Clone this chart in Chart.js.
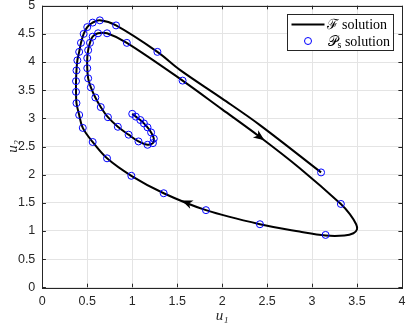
<!DOCTYPE html>
<html>
<head>
<meta charset="utf-8">
<script src="https://cdn.jsdelivr.net/npm/chart.js@4/dist/chart.umd.min.js"></script>
<style>
  html, body { margin: 0; padding: 0; background: #fff; }
  #wrap { width: 407px; height: 326px; }
</style>
</head>
<body>
<div id="wrap"><canvas id="cv" width="407" height="326"></canvas></div>
<script>
// ===== values =====
// F solution (continuous line), in time order
const fU1 = [1.00, 1.04, 1.09, 1.13, 1.17, 1.21, 1.24, 1.23, 1.17, 1.07, 0.96, 0.84, 0.73, 0.65, 0.59, 0.54,
  0.51, 0.50, 0.50, 0.51, 0.53, 0.56, 0.62, 0.72, 0.94, 1.56, 2.00, 2.42, 2.86, 3.32, 3.42, 3.49,
  3.50, 3.46, 3.36, 3.15, 2.86, 2.42, 1.82, 1.35, 0.99, 0.72, 0.56, 0.45, 0.41, 0.38, 0.375, 0.375,
  0.38, 0.39, 0.41, 0.43, 0.46, 0.50, 0.56, 0.64, 0.82, 1.28, 1.53, 2.00, 2.42, 3.10];
const fU2 = [3.08, 3.03, 2.97, 2.91, 2.84, 2.75, 2.64, 2.56, 2.53, 2.59, 2.71, 2.85, 3.02, 3.20, 3.37, 3.55,
  3.71, 3.89, 4.07, 4.21, 4.34, 4.45, 4.51, 4.51, 4.34, 3.67, 3.16, 2.67, 2.12, 1.48, 1.30, 1.12,
  1.03, 0.96, 0.92, 0.92, 0.99, 1.12, 1.37, 1.67, 1.98, 2.29, 2.58, 2.83, 3.06, 3.27, 3.47, 3.66,
  3.85, 4.03, 4.18, 4.34, 4.50, 4.62, 4.70, 4.74, 4.65, 4.18, 3.86, 3.35, 2.88, 2.04];

// Ps solution (circles)
const psU1 = [1.00, 1.04, 1.09, 1.13, 1.17, 1.21, 1.24, 1.23, 1.17, 1.07, 0.96, 0.84, 0.73, 0.65, 0.59, 0.54,
  0.51, 0.50, 0.50, 0.51, 0.53, 0.56, 0.62, 0.72, 0.94, 1.56, 3.32, 3.15, 2.42, 1.82, 1.35, 0.99,
  0.72, 0.56, 0.45, 0.41, 0.38, 0.375, 0.375, 0.38, 0.39, 0.41, 0.43, 0.46, 0.50, 0.56, 0.64, 0.82,
  1.28, 3.10];
const psU2 = [3.08, 3.03, 2.97, 2.91, 2.84, 2.75, 2.64, 2.56, 2.53, 2.59, 2.71, 2.85, 3.02, 3.20, 3.37, 3.55,
  3.71, 3.89, 4.07, 4.21, 4.34, 4.45, 4.51, 4.51, 4.34, 3.67, 1.48, 0.93, 1.12, 1.37, 1.67, 1.98,
  2.29, 2.58, 2.83, 3.06, 3.27, 3.47, 3.66, 3.85, 4.03, 4.18, 4.34, 4.50, 4.62, 4.70, 4.74, 4.65,
  4.18, 2.04];

// direction arrows: tail -> tip
const arrowTail = [[2.30, 2.81], [1.72, 1.43]];
const arrowTip  = [[2.47, 2.61], [1.55, 1.54]];

const xTickVals = [0, 0.5, 1, 1.5, 2, 2.5, 3, 3.5, 4];
const yTickVals = [0, 0.5, 1, 1.5, 2, 2.5, 3, 3.5, 4, 4.5, 5];

const AXIS_COLOR = "#262626";
const GRID_COLOR = "#e4e4e4";
const TICK_FONT = { family: "'Liberation Sans', Arial, sans-serif", size: 12.5 };
const TITLE_FONT = { family: "'Liberation Serif', 'Times New Roman', serif", size: 15, style: "italic" };

const zip = (a, b) => a.map((v, i) => ({ x: v, y: b[i] }));

// arrowheads, box with inward ticks, legend
const decor = {
  id: "decor",
  afterDraw(chart) {
    const ctx = chart.ctx;
    const xs = chart.scales.x, ys = chart.scales.y;
    const a = chart.chartArea;

    // arrowheads along the trajectory
    ctx.save();
    ctx.fillStyle = "#000";
    arrowTip.forEach((tip, i) => {
      const tx = xs.getPixelForValue(tip[0]), ty = ys.getPixelForValue(tip[1]);
      const bx = xs.getPixelForValue(arrowTail[i][0]), by = ys.getPixelForValue(arrowTail[i][1]);
      const ang = Math.atan2(ty - by, tx - bx);
      ctx.save();
      ctx.translate(tx, ty);
      ctx.rotate(ang);
      ctx.beginPath();
      ctx.moveTo(0, 0);
      ctx.lineTo(-11, -4.5);
      ctx.lineTo(-8, 0);
      ctx.lineTo(-11, 4.5);
      ctx.closePath();
      ctx.fill();
      ctx.restore();
    });
    ctx.restore();

    // box + inward ticks (matlab style)
    ctx.save();
    ctx.strokeStyle = AXIS_COLOR;
    ctx.lineWidth = 1;
    ctx.strokeRect(Math.round(a.left) + 0.5, Math.round(a.top) + 0.5,
      Math.round(a.right - a.left), Math.round(a.bottom - a.top));
    const tl = 3.6;
    ctx.beginPath();
    xTickVals.forEach(v => {
      const px = Math.round(xs.getPixelForValue(v)) + 0.5;
      ctx.moveTo(px, a.bottom); ctx.lineTo(px, a.bottom - tl);
      ctx.moveTo(px, a.top); ctx.lineTo(px, a.top + tl);
    });
    yTickVals.forEach(v => {
      const py = Math.round(ys.getPixelForValue(v)) + 0.5;
      ctx.moveTo(a.left, py); ctx.lineTo(a.left + tl, py);
      ctx.moveTo(a.right, py); ctx.lineTo(a.right - tl, py);
    });
    ctx.stroke();
    ctx.restore();

    // legend box in the upper right corner
    const ds = chart.data.datasets;
    const lineDs = ds.find(d => d.showLine);
    const markDs = ds.find(d => !d.showLine);
    const bw = 106, bh = 36;
    const bx0 = Math.round(a.right - 9 - bw) + 0.5, by0 = Math.round(a.top + 8) + 0.5;
    ctx.save();
    ctx.fillStyle = "#fff";
    ctx.fillRect(bx0, by0, bw, bh);
    ctx.strokeStyle = AXIS_COLOR;
    ctx.lineWidth = 1;
    ctx.strokeRect(bx0, by0, bw, bh);

    const row1 = by0 + 10, row2 = by0 + 26.5;
    ctx.strokeStyle = lineDs.borderColor;
    ctx.lineWidth = lineDs.borderWidth;
    ctx.beginPath();
    ctx.moveTo(bx0 + 4, row1); ctx.lineTo(bx0 + 37, row1);
    ctx.stroke();
    ctx.strokeStyle = markDs.borderColor;
    ctx.lineWidth = markDs.borderWidth;
    ctx.beginPath();
    ctx.arc(bx0 + 20.5, row2, markDs.pointRadius, 0, Math.PI * 2);
    ctx.stroke();

    ctx.fillStyle = "#000";
    ctx.textBaseline = "middle";
    ctx.font = "14px 'Liberation Serif', serif";
    ctx.fillText(lineDs.label, bx0 + 39, row1 + 1);
    // P with a subscript s
    const [sym, sub, rest] = markDs.label.split("|");
    let tx = bx0 + 40;
    ctx.fillText(sym, tx, row2 + 1);
    tx += ctx.measureText(sym).width;
    ctx.font = "10px 'Liberation Serif', serif";
    ctx.fillText(sub, tx, row2 + 4);
    tx += ctx.measureText(sub).width;
    ctx.font = "14px 'Liberation Serif', serif";
    ctx.fillText(rest, tx, row2 + 1);
    ctx.restore();
  }
};

new Chart(document.getElementById("cv"), {
  type: "scatter",
  data: {
    datasets: [
      {
        label: "𝒫|s| solution",
        data: zip(psU1, psU2),
        showLine: false,
        pointStyle: "circle",
        pointRadius: 3.5,
        borderColor: "#0000ff",
        backgroundColor: "rgba(0,0,0,0)",
        borderWidth: 1
      },
      {
        label: "ℱ solution",
        data: zip(fU1, fU2),
        showLine: true,
        borderColor: "#000000",
        borderWidth: 2,
        pointRadius: 0,
        tension: 0.35
      }
    ]
  },
  options: {
    responsive: false,
    animation: false,
    devicePixelRatio: 1,
    layout: { padding: { top: 5.7, right: 4.3, left: 0, bottom: 0 } },
    plugins: { legend: { display: false }, tooltip: { enabled: false } },
    scales: {
      x: {
        type: "linear", min: 0, max: 4,
        afterBuildTicks: s => { s.ticks = xTickVals.map(v => ({ value: v })); },
        afterFit: s => { s.height = 38.7; s.paddingLeft = 0; s.paddingRight = 0; },
        ticks: { color: AXIS_COLOR, font: TICK_FONT, padding: 7, maxRotation: 0, callback: v => String(v) },
        grid: { color: GRID_COLOR, drawTicks: false },
        border: { display: false },
        title: { display: true, text: "u₁", color: AXIS_COLOR, font: TITLE_FONT, padding: { top: 0, bottom: 1 } }
      },
      y: {
        type: "linear", min: 0, max: 5,
        afterBuildTicks: s => { s.ticks = yTickVals.map(v => ({ value: v })); },
        afterFit: s => { s.width = 42.3; s.paddingTop = 0; s.paddingBottom = 0; },
        ticks: { color: AXIS_COLOR, font: TICK_FONT, padding: 7, callback: v => String(v) },
        grid: { color: GRID_COLOR, drawTicks: false },
        border: { display: false },
        title: { display: true, text: "u₂", color: AXIS_COLOR, font: TITLE_FONT, padding: { top: 4, bottom: 0 } }
      }
    }
  },
  plugins: [decor]
});
</script>
</body>
</html>
